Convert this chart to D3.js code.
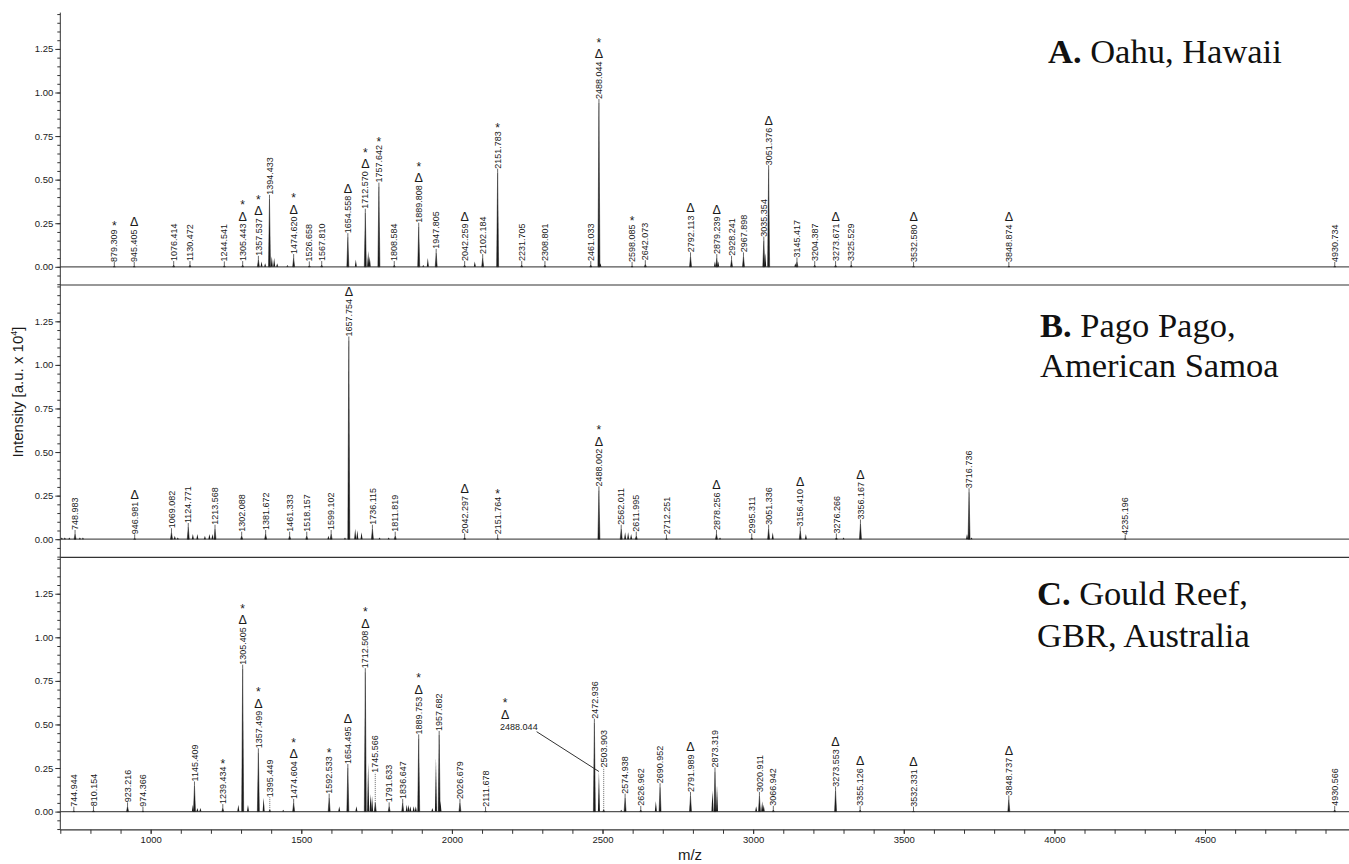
<!DOCTYPE html>
<html>
<head>
<meta charset="utf-8">
<script src="https://cdn.jsdelivr.net/npm/d3@7"></script>
<style>
  body { margin: 0; background: #fff; }
  svg { display: block; }
  text { font-family: "Liberation Sans", Arial, sans-serif; }
</style>
</head>
<body>
<svg id="chart" width="1349" height="864"></svg>
<script>
// ---- data ----
const xTickLabels = [1000, 1500, 2000, 2500, 3000, 3500, 4000, 4500];
const yTickLabels = [0, 0.25, 0.5, 0.75, 1.0, 1.25];
const titleBold = ["A.", "B.", "C."];
const titleLines = [["Oahu, Hawaii"], ["Pago Pago,", "American Samoa"], ["Gould Reef,", "GBR, Australia"]];

// [m/z, intensity, marks, label height (optional)]
const peaksA = [
  [879.309, 0.005, "*"], [945.405, 0.005, "D"], [1076.414, 0.01, ""], [1130.472, 0.01, ""],
  [1244.541, 0.008, ""], [1305.443, 0.01, "D*"], [1357.537, 0.04, "D*"], [1394.433, 0.39, ""],
  [1474.620, 0.05, "D*"], [1526.658, 0.008, ""], [1567.810, 0.01, ""], [1654.558, 0.17, "D"],
  [1712.570, 0.31, "D*"], [1757.642, 0.46, "*"], [1808.584, 0.01, ""], [1889.808, 0.23, "D*"],
  [1947.805, 0.08, ""], [2042.259, 0.01, "D"], [2102.184, 0.05, ""], [2151.783, 0.54, "*"],
  [2231.705, 0.01, ""], [2308.801, 0.01, ""], [2461.033, 0.01, ""], [2488.044, 0.94, "D*"],
  [2598.085, 0.005, "*"], [2642.073, 0.015, ""], [2792.113, 0.06, "D"], [2879.239, 0.05, "D"],
  [2928.241, 0.04, ""], [2967.898, 0.06, ""], [3035.354, 0.15, ""], [3051.376, 0.56, "D"],
  [3145.417, 0.03, ""], [3204.387, 0.01, ""], [3273.671, 0.01, "D"], [3325.529, 0.01, ""],
  [3532.580, 0.005, "D"], [3848.874, 0.005, "D"], [4930.734, 0.005, ""]
];
const minorA = [
  [1368, 0.03], [1380, 0.02], [1402, 0.06], [1410, 0.05], [1420, 0.02], [1454, 0.01],
  [1681, 0.04], [1722, 0.09], [1727, 0.06], [1905, 0.01], [1920, 0.05], [2076, 0.03],
  [2493, 0.02], [2873, 0.03], [2884, 0.03], [3040, 0.08], [3140, 0.02]
];

const peaksB = [
  [748.983, 0.03, ""], [946.981, 0.005, "D"], [1069.082, 0.04, ""], [1124.771, 0.07, ""],
  [1213.568, 0.06, ""], [1302.088, 0.02, ""], [1381.672, 0.03, ""], [1461.333, 0.02, ""],
  [1518.157, 0.02, ""], [1599.102, 0.03, ""], [1657.754, 1.14, "D"], [1736.115, 0.06, ""],
  [1811.819, 0.02, ""], [2042.297, 0.01, "D"], [2151.764, 0.005, "*"], [2488.002, 0.28, "D*"],
  [2562.011, 0.06, ""], [2611.995, 0.02, ""], [2712.251, 0.005, ""], [2878.256, 0.03, "D"],
  [2995.311, 0.01, ""], [3051.336, 0.06, ""], [3156.410, 0.05, "D"], [3276.266, 0.01, ""],
  [3356.167, 0.09, "D"], [3716.736, 0.27, ""], [4235.196, 0.003, ""]
];
const minorB = [
  [705, 0.01], [715, 0.01], [730, 0.01], [765, 0.01], [775, 0.01], [1080, 0.02], [1090, 0.01],
  [1140, 0.03], [1155, 0.03], [1180, 0.02], [1195, 0.03], [1205, 0.03], [1590, 0.02],
  [1645, 0.01], [1679, 0.06], [1686, 0.05], [1700, 0.04], [1760, 0.01], [1790, 0.01],
  [2575, 0.04], [2585, 0.04], [2595, 0.03], [2890, 0.01], [3065, 0.04], [3175, 0.03],
  [3300, 0.01], [3710, 0.03], [3725, 0.01]
];

const peaksC = [
  [744.944, 0.005, ""], [810.154, 0.008, ""], [923.216, 0.03, ""], [974.366, 0.005, ""],
  [1145.409, 0.15, ""], [1239.434, 0.02, "*"], [1305.405, 0.82, "D*"], [1357.499, 0.34, "D*"],
  [1395.449, 0.01, "", 0.06], [1474.604, 0.05, "D*"], [1592.533, 0.08, "*"], [1654.495, 0.25, "D"],
  [1712.508, 0.80, "D*"], [1745.566, 0.05, "", 0.2], [1791.633, 0.03, ""], [1836.647, 0.05, ""],
  [1889.753, 0.42, "D*"], [1957.682, 0.44, ""], [2026.679, 0.05, ""], [2111.678, 0.005, ""],
  [2472.936, 0.51, ""], [2503.903, 0.01, "", 0.23], [2574.938, 0.08, ""], [2626.962, 0.01, ""],
  [2690.952, 0.14, ""], [2791.989, 0.09, "D"], [2873.319, 0.23, ""], [3020.911, 0.09, ""],
  [3066.942, 0.01, ""], [3273.553, 0.12, "D"], [3355.126, 0.01, "D"], [3532.331, 0.005, "D"],
  [3848.737, 0.07, "D"], [4930.566, 0.01, ""]
];
const minorC = [
  [1140, 0.04], [1155, 0.02], [1165, 0.02], [1291, 0.04], [1323, 0.04], [1375, 0.08],
  [1440, 0.01], [1626, 0.03], [1683, 0.03], [1722, 0.28], [1730, 0.1], [1735, 0.09],
  [1850, 0.04], [1856, 0.04], [1862, 0.03], [1873, 0.03], [1880, 0.03], [1935, 0.02],
  [1947, 0.31], [1962, 0.06], [2488.044, 0.23], [2562, 0.01], [2677, 0.06], [2865, 0.12],
  [2880, 0.15], [3010, 0.03], [3030, 0.06], [3035, 0.04]
];
// C panel: 2488.044 labelled off to the side with a leader line
const calloutC = { mz: 2488.044, h: 0.23, marks: "D*", atMz: 2160, atH: 0.47 };

const panels = [
  { peaks: peaksA, minor: minorA },
  { peaks: peaksB, minor: minorB },
  { peaks: peaksC, minor: minorC, callout: calloutC }
];

// ---- layout ----
const svg = d3.select("#chart");
const left = 60.3, right = 1349;
const top0 = 12.6, panelH = 272.4;
const bottom = top0 + panelH * 3;

const x = d3.scaleLinear().domain([700, 4978]).range([left, right]);

const ink = "#1a1a1a";
const halfW = 1.0;

function peakPath(y, d) {
  const px = x(d[0]), y0 = y(0), yh = y(d[1]);
  return `M${px - halfW},${y0}L${px},${yh}L${px + halfW},${y0}Z`;
}

// delta / asterisk markers stacked above a label end
function drawMarks(g, px, yEnd, marks) {
  if (!marks) return;
  let yy = yEnd;
  if (marks.includes("D")) {
    g.append("text")
      .attr("x", px).attr("y", yEnd - 3)
      .attr("text-anchor", "middle")
      .attr("font-size", 12.5)
      .attr("fill", ink)
      .text("\u0394");
    yy = yEnd - 14.5;
  } else {
    yy = yEnd + 1;
  }
  if (marks.includes("*")) {
    g.append("text")
      .attr("x", px).attr("y", yy)
      .attr("text-anchor", "middle")
      .attr("font-size", 12)
      .attr("fill", ink)
      .text("*");
  }
}

panels.forEach((p, i) => {
  const top = top0 + i * panelH;
  const y = d3.scaleLinear().domain([-0.1044, 1.4584]).range([top + panelH, top]);
  const g = svg.append("g");

  // y axis: minor and major ticks
  g.append("g")
    .attr("transform", `translate(${left},0)`)
    .call(d3.axisLeft(y).tickValues(d3.range(-2, 30).map((k) => k * 0.05)).tickSize(3).tickFormat(""))
    .call((a) => a.select(".domain").remove())
    .call((a) => a.selectAll("line").attr("stroke", "#333"));
  g.append("g")
    .attr("transform", `translate(${left},0)`)
    .call(d3.axisLeft(y).tickValues(yTickLabels).tickSize(5).tickPadding(2).tickFormat(d3.format(".2f")))
    .call((a) => a.select(".domain").remove())
    .call((a) => a.selectAll("line").attr("stroke", "#333"))
    .call((a) => a.selectAll("text").attr("font-size", 9.5).attr("fill", ink)
      .attr("font-family", '"Liberation Sans", Arial, sans-serif'));

  // baseline
  g.append("line")
    .attr("x1", left).attr("x2", right)
    .attr("y1", y(0)).attr("y2", y(0))
    .attr("stroke", "#555").attr("stroke-width", 1.2);

  // peaks
  g.selectAll("path.minor")
    .data(p.minor)
    .join("path")
    .attr("class", "minor")
    .attr("d", (d) => peakPath(y, d))
    .attr("fill", ink);
  g.selectAll("path.peak")
    .data(p.peaks)
    .join("path")
    .attr("class", "peak")
    .attr("d", (d) => peakPath(y, d))
    .attr("fill", ink)
    .attr("stroke", ink)
    .attr("stroke-width", 0.5);

  // peak labels
  p.peaks.forEach((d) => {
    const px = x(d[0]);
    const labH = d[3] !== undefined ? d[3] : d[1];
    const yStart = y(labH) - 4;
    g.append("line")
      .attr("x1", px).attr("x2", px)
      .attr("y1", y(d[1])).attr("y2", yStart)
      .attr("stroke", "#444").attr("stroke-width", 0.8)
      .attr("stroke-dasharray", d[3] !== undefined ? "1,1" : null);
    const t = g.append("text")
      .attr("transform", `translate(${px},${yStart}) rotate(-90)`)
      .attr("dy", "0.35em")
      .attr("font-size", 9)
      .attr("fill", ink)
      .text(d[0].toFixed(3));
    const len = t.node().getComputedTextLength();
    drawMarks(g, px, yStart - len, d[2]);
  });

  if (p.callout) {
    const c = p.callout;
    const lx = x(c.atMz), ly = y(c.atH);
    const t = g.append("text")
      .attr("x", lx).attr("y", ly)
      .attr("font-size", 9)
      .attr("fill", ink)
      .text(c.mz.toFixed(3));
    const len = t.node().getComputedTextLength();
    g.append("line")
      .attr("x1", lx + len - 1).attr("y1", ly + 2)
      .attr("x2", x(c.mz)).attr("y2", y(c.h))
      .attr("stroke", ink).attr("stroke-width", 0.9);
    drawMarks(g, lx + 5, ly - 8, c.marks);
  }

  // panel title
  const title = g.append("text")
    .attr("x", [1048, 1040, 1037][i])
    .attr("y", [63, 336.7, 605][i])
    .attr("font-size", 34.5)
    .attr("fill", "#111")
    .style("font-family", '"Liberation Serif", "Times New Roman", serif');
  title.append("tspan").attr("font-weight", "bold").text(titleBold[i]);
  title.append("tspan").text(" " + titleLines[i][0]);
  if (titleLines[i][1]) {
    g.append("text")
      .attr("x", [1048, 1040, 1037][i])
      .attr("y", [63, 377.3, 647.3][i])
      .attr("font-size", 34.5)
      .attr("fill", "#111")
      .style("font-family", '"Liberation Serif", "Times New Roman", serif')
      .text(titleLines[i][1]);
  }

  // panel separator / x axis line
  svg.append("line")
    .attr("x1", left).attr("x2", right)
    .attr("y1", top + panelH).attr("y2", top + panelH)
    .attr("stroke", "#333").attr("stroke-width", 1.2);
});

// y axis line through all panels
svg.append("line")
  .attr("x1", left).attr("x2", left)
  .attr("y1", top0).attr("y2", bottom)
  .attr("stroke", "#333").attr("stroke-width", 1);

// x axis
svg.append("g")
  .attr("transform", `translate(0,${bottom})`)
  .call(d3.axisBottom(x).tickValues(d3.range(700, 4978, 100)).tickSize(4).tickFormat(""))
  .call((a) => a.select(".domain").remove())
  .call((a) => a.selectAll("line").attr("stroke", "#333"));
svg.append("g")
  .attr("transform", `translate(0,${bottom})`)
  .call(d3.axisBottom(x).tickValues(xTickLabels).tickSize(4).tickPadding(2).tickFormat(d3.format("d")))
  .call((a) => a.select(".domain").remove())
  .call((a) => a.selectAll("line").attr("stroke", "#333"))
  .call((a) => a.selectAll("text").attr("font-size", 9.5).attr("fill", ink)
    .attr("font-family", '"Liberation Sans", Arial, sans-serif'));

svg.append("text")
  .attr("x", 690).attr("y", 860)
  .attr("text-anchor", "middle")
  .attr("font-size", 15)
  .attr("fill", ink)
  .text("m/z");

const yt = svg.append("text")
  .attr("transform", "translate(23,392) rotate(-90)")
  .attr("text-anchor", "middle")
  .attr("font-size", 15)
  .attr("fill", ink);
yt.append("tspan").text("Intensity [a.u. x 10");
yt.append("tspan").attr("font-size", 9).attr("dy", -6).text("4");
yt.append("tspan").attr("dy", 6).text("]");
</script>
</body>
</html>
